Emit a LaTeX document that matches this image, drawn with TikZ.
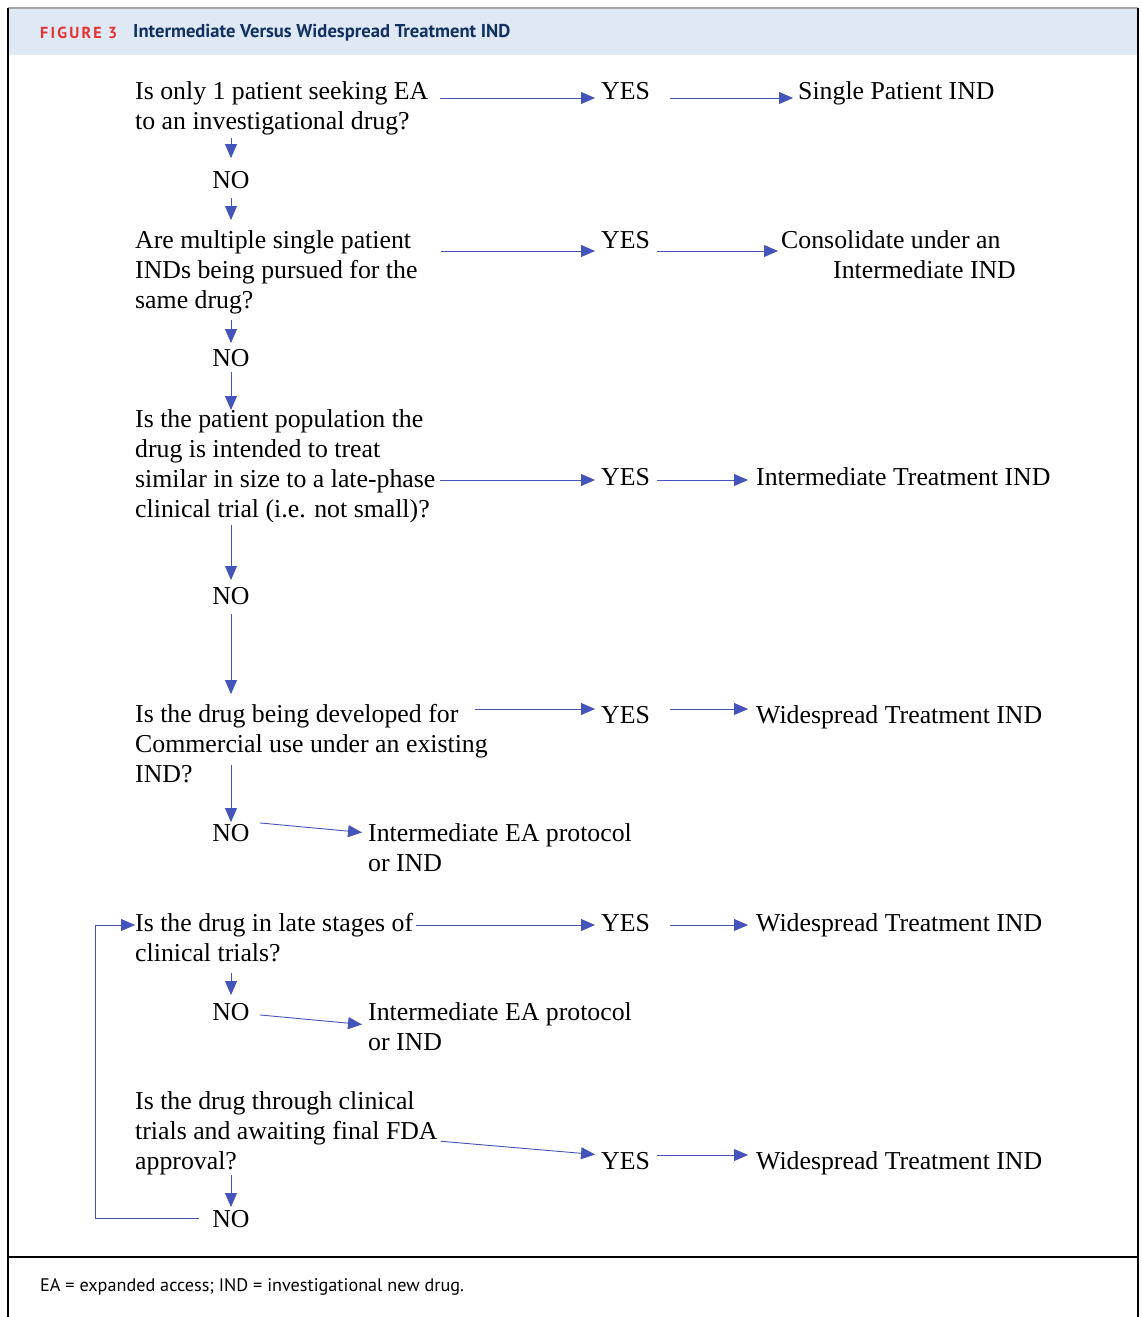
\documentclass[tikz,border=0pt]{standalone}
\usepackage{fontspec}
\setmainfont{Liberation Serif}
\newfontfamily\hdfont{PT Sans}
\newfontfamily\figfont[LetterSpace=14]{PT Sans}
\usetikzlibrary{arrows.meta,calc}
\definecolor{arrblue}{RGB}{68,84,186}
\definecolor{headblue}{RGB}{222,233,245}
\definecolor{figred}{RGB}{232,49,47}
\definecolor{titleblue}{RGB}{18,48,96}
\begin{document}
\begin{tikzpicture}[x=1pt,y=-1pt,
  txt/.style={anchor=west,inner sep=0pt,align=left,font=\fontsize{25.8}{30}\selectfont},
  one/.style={anchor=base west,inner sep=0pt,font=\fontsize{25.8}{30}\selectfont},
  nolab/.style={anchor=base,inner sep=0pt,font=\fontsize{25.8}{30}\selectfont},
  arr/.style={draw=arrblue,line width=0.9pt,-{Triangle[length=14pt,width=12pt]}},
  ln/.style={draw=arrblue,line width=0.9pt}]
\useasboundingbox (0,0) rectangle (1142,1317);
\fill[white] (0,0) rectangle (1142,1317);
\fill[headblue] (9,9) rectangle (1137,55);
\draw[gray!70,line width=1.5pt] (8,8) -- (1138,8);
\draw[black,line width=2pt] (8,8) -- (8,1317);
\draw[black,line width=1.5pt] (1138,8) -- (1138,1317);
\draw[black,line width=1.5pt] (8,1257) -- (1138,1257);

\node[anchor=west,inner sep=0pt,font=\figfont\fontsize{16}{18}\selectfont\bfseries,text=figred] (fig) at (40,33) {FIGURE 3};
\node[anchor=west,inner sep=0pt,font=\hdfont\fontsize{18.6}{21}\selectfont\bfseries,text=titleblue] (title) at (133,33) {Intermediate Versus Widespread Treatment IND};
\node[anchor=west,inner sep=0pt,font=\hdfont\fontsize{18.2}{21}\selectfont] (foot) at (40,1287) {EA = expanded access; IND = investigational new drug.};

% questions
\node[txt] (q1) at (135,108) {Is only 1 patient seeking EA\\to an investigational drug?};
\node[txt] (q2) at (135,272) {Are multiple single patient\\INDs being pursued for the\\same drug?};
\node[txt] (q3) at (135,466) {Is the patient population the\\drug is intended to treat\\similar in size to a late-phase\\clinical trial (i.e. not small)?};
\node[txt] (q4) at (135,744) {Is the drug being developed for\\Commercial use under an existing\\IND?};
\node[txt] (q5) at (135,938) {Is the drug in late stages of\\clinical trials?};
\node[txt] (q6) at (135,1133) {Is the drug through clinical\\trials and awaiting final FDA\\approval?};

% yes
\node[one] (y1) at (601,99) {YES};
\node[one] (y2) at (601,248) {YES};
\node[one] (y3) at (601,485) {YES};
\node[one] (y4) at (601,723) {YES};
\node[one] (y5) at (601,931) {YES};
\node[one] (y6) at (601,1169) {YES};

% no
\node[nolab] (n1) at (231,188) {NO};
\node[nolab] (n2) at (231,366) {NO};
\node[nolab] (n3) at (231,604) {NO};
\node[nolab] (n4) at (231,841) {NO};
\node[nolab] (n5) at (231,1020) {NO};
\node[nolab] (n6) at (231,1227) {NO};

% results
\node[one] (r1) at (798,99) {Single Patient IND};
\node[txt] (r2) at (781,255) {Consolidate under an\\\hspace*{52pt}Intermediate IND};
\node[one] (r3) at (756,485) {Intermediate Treatment IND};
\node[one] (r4) at (756,723) {Widespread Treatment IND};
\node[txt] (e1) at (368,848) {Intermediate EA protocol\\or IND};
\node[one] (r5) at (756,931) {Widespread Treatment IND};
\node[txt] (e2) at (368,1027) {Intermediate EA protocol\\or IND};
\node[one] (r6) at (756,1169) {Widespread Treatment IND};

% question -> YES
\draw[arr,shorten <=12pt,shorten >=6pt] (q1.east |- 0,98) -- (y1.west |- 0,98);
\draw[arr,shorten <=23pt,shorten >=6pt] (q2.east |- 0,251) -- (y2.west |- 0,251);
\draw[arr,shorten <=4pt,shorten >=6pt] (q3.east |- 0,480) -- (y3.west |- 0,480);
\draw[arr,shorten <=-13pt,shorten >=6pt] (q4.east |- 0,709) -- (y4.west |- 0,709);
\draw[arr,shorten <=3pt,shorten >=6pt] (q5.east |- 0,925) -- (y5.west |- 0,925);
\draw[arr,shorten <=3pt,shorten >=6pt] (q6.east |- 0,1141) -- (y6.west |- 0,1155);

% YES -> result
\draw[arr,shorten <=20pt,shorten >=5pt] (y1.east |- 0,98) -- (r1.west |- 0,98);
\draw[arr,shorten <=7pt,shorten >=3pt] (y2.east |- 0,251) -- (r2.west |- 0,251);
\draw[arr,shorten <=7pt,shorten >=8pt] (y3.east |- 0,480) -- (r3.west |- 0,480);
\draw[arr,shorten <=20pt,shorten >=8pt] (y4.east |- 0,709) -- (r4.west |- 0,709);
\draw[arr,shorten <=20pt,shorten >=8pt] (y5.east |- 0,925) -- (r5.west |- 0,925);
\draw[arr,shorten <=7pt,shorten >=8pt] (y6.east |- 0,1155) -- (r6.west |- 0,1155);

% vertical arrows
\draw[arr] (n1.north |- 0,138) -- (n1.north |- 0,158);
\draw[arr] (n1.north |- 0,198) -- (n1.north |- 0,220);
\draw[arr] (n2.north |- 0,320) -- (n2.north |- 0,343);
\draw[arr] (n2.north |- 0,372) -- (n2.north |- 0,410);
\draw[arr] (n3.north |- 0,525) -- (n3.north |- 0,580);
\draw[arr] (n3.north |- 0,614) -- (n3.north |- 0,694);
\draw[arr] (n4.north |- 0,765) -- (n4.north |- 0,822);
\draw[arr] (n5.north |- 0,973) -- (n5.north |- 0,995);
\draw[arr] (n6.north |- 0,1175) -- (n6.north |- 0,1207);

% NO -> intermediate EA
\draw[arr,shorten <=10pt,shorten >=6pt] (n4.east |- 0,822) -- (e1.west |- 0,833);
\draw[arr,shorten <=10pt,shorten >=6pt] (n5.east |- 0,1014) -- (e2.west |- 0,1025);

% loop back
\draw[arr,shorten <=13pt] (n6.west |- 0,1218) -- ++(-117,0) |- (q5.west |- 0,925);
\end{tikzpicture}
\end{document}
